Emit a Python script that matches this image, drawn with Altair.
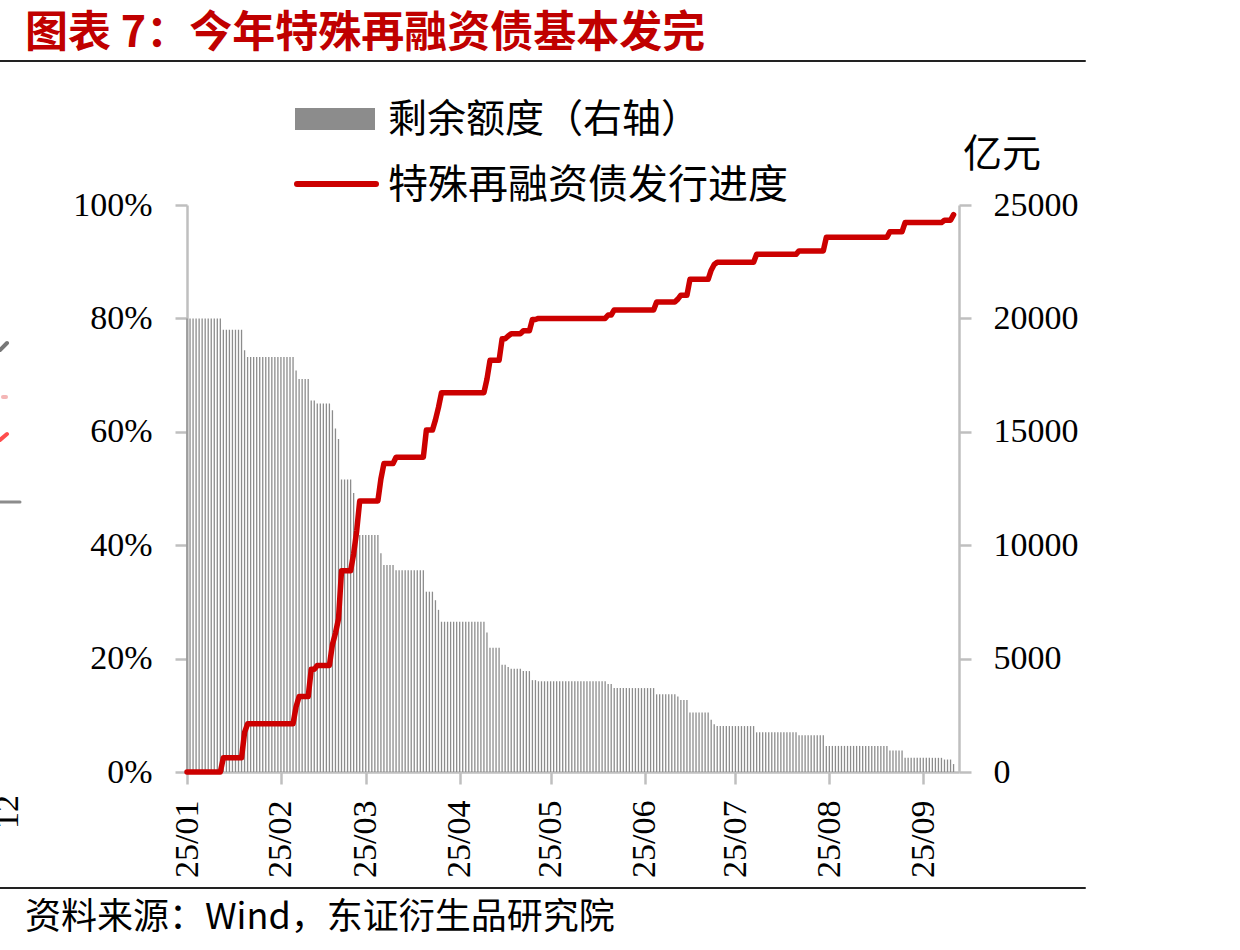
import altair as alt
import pandas as pd
import numpy as np

# ---------------- data ----------------
start_date = "2025-01-01"
# number of consecutive days at each level, starting 2025-01-01
run_days = [12, 7, 1, 16, 1, 4, 2, 5, 1, 1, 1, 4, 1, 1, 7, 1, 4, 10, 3, 1, 1, 15,
            1, 4, 2, 1, 4, 3, 2, 23, 2, 14, 7, 1, 3, 7, 1, 1, 13, 14, 9, 21, 5, 13, 3, 1]
# 剩余额度 (亿元, right axis)
remain_levels = [20000, 19500, 18600, 18300, 17700, 17330, 16375, 16250, 15950, 15150,
                 14680, 12900, 12300, 11500, 10450, 9650, 9125, 8900, 7950, 7575, 7150,
                 6625, 6150, 5475, 4725, 4625, 4550, 4450, 4050, 4000, 3875, 3700, 3425,
                 3325, 3175, 2625, 2300, 2100, 2025, 1750, 1625, 1150, 950, 625, 550, 350]
# 特殊再融资债发行进度 (%, left axis)
progress_levels = [0, 2.5, 7.0, 8.5, 11.5, 13.3, 18.1, 18.8, 22.5, 24.5, 27.0, 35.5,
                   38.5, 42.5, 47.8, 51.7, 54.4, 55.5, 60.3, 62.1, 64.3, 66.9, 69.3,
                   72.6, 76.4, 76.9, 77.3, 77.8, 79.8, 80.0, 80.6, 81.5, 82.9, 83.4,
                   84.1, 86.9, 88.5, 89.5, 89.9, 91.3, 91.9, 94.3, 95.3, 96.9, 97.3, 98.3]

left_ticks = [0, 20, 40, 60, 80, 100]
right_ticks = [0, 5000, 10000, 15000, 20000, 25000]
month_ticks = [1, 2, 3, 4, 5, 6, 7, 8, 9]

title_text = "图表 7：今年特殊再融资债基本发完"
legend_bar_text = "剩余额度（右轴）"
legend_line_text = "特殊再融资债发行进度"
unit_text = "亿元"
source_text = "资料来源：Wind，东证衍生品研究院"

# ---------------- table ----------------
dates = pd.date_range(start_date, periods=sum(run_days), freq="D")
df = pd.DataFrame({
    "date": dates.strftime("%Y-%m-%dT00:00:00"),
    "remain": np.repeat(remain_levels, run_days),
    "progress": np.repeat(progress_levels, run_days),
})

CJK = "Noto Sans CJK SC"
SERIF = "Liberation Serif"
AX = "#bfbfbf"
RED = "#CC0000"
GRAY = "#8c8c8c"

W, H = 772, 567
PL, PT = 187, 205  # view origin in page pixels

xenc = alt.X(
    "date:T",
    title=None,
    scale=alt.Scale(domain=[alt.DateTime(year=2025, month=1, date=1),
                            alt.DateTime(year=2025, month=9, date=12, hours=19)],
                    padding=0),
    axis=alt.Axis(
        values=[alt.DateTime(year=2025, month=m, date=1) for m in month_ticks],
        format="%y/%m", labelAngle=270, labelAlign="right", labelBaseline="middle",
        labelPadding=16, tickSize=12, grid=False,
    ),
)

bars = alt.Chart(df).mark_bar(size=1.3, color=GRAY).encode(
    x=xenc,
    y=alt.Y("remain:Q", title=None,
            scale=alt.Scale(domain=[0, 25000], nice=False),
            axis=alt.Axis(orient="right", values=right_ticks, labelPadding=22,
                          tickSize=12, grid=False, format="d")),
)

line = alt.Chart(df).mark_line(color=RED, strokeWidth=5.5, strokeCap="round",
                               strokeJoin="round").encode(
    x=xenc,
    y=alt.Y("progress:Q", title=None,
            scale=alt.Scale(domain=[0, 100], nice=False),
            axis=alt.Axis(orient="left", values=left_ticks, labelPadding=23,
                          tickSize=12, grid=False, labelExpr="datum.value + '%'")),
)


def txt(s, px, py, size, color="black", font=CJK, weight="normal", align="left", angle=0):
    return alt.Chart(pd.DataFrame({"t": [s]})).mark_text(
        align=align, baseline="middle", fontSize=size, font=font,
        fontWeight=weight, color=color, angle=angle,
    ).encode(x=alt.value(px - PL), y=alt.value(py - PT), text="t:N")


def rule(x1, y1, x2, y2, color, width):
    return alt.Chart(pd.DataFrame({"a": [0]})).mark_rule(
        color=color, strokeWidth=width, strokeCap="round"
    ).encode(x=alt.value(x1 - PL), x2=alt.value(x2 - PL),
             y=alt.value(y1 - PT), y2=alt.value(y2 - PT))


def rect(x1, y1, x2, y2, color):
    return alt.Chart(pd.DataFrame({"a": [0]})).mark_rect(color=color).encode(
        x=alt.value(x1 - PL), x2=alt.value(x2 - PL),
        y=alt.value(y1 - PT), y2=alt.value(y2 - PT))


annotations = [
    txt(title_text, 25, 34, 43, color="#C00000", weight="bold"),
    rule(0, 61, 1085, 61, "#222222", 2),
    rect(295, 108, 375, 130, GRAY),
    txt(legend_bar_text, 388, 120, 39),
    alt.Chart(pd.DataFrame({"a": [0]})).mark_rule(color=RED, strokeWidth=6, strokeCap="round").encode(
        x=alt.value(297 - PL), x2=alt.value(376 - PL), y=alt.value(184 - PT), y2=alt.value(184 - PT)),
    txt(legend_line_text, 388, 186, 40),
    txt(unit_text, 963, 155, 39),
    rule(0, 888, 1085, 888, "#222222", 2),
    txt(source_text, 25, 918, 36),
    # fragments of the neighbouring chart at the left edge
    rule(0, 350, 7, 343, "#777777", 4),
    rule(3, 397, 6, 397, "#f4b6b6", 4),
    rule(0, 440, 7, 434, "#ff4d4d", 4),
    rule(0, 502, 20, 502, GRAY, 3),
    txt("12", 8, 795, 34, font=SERIF, align="right", angle=270),
]

chart = alt.layer(bars, line, *annotations).resolve_scale(y="independent").properties(
    width=W, height=H,
    padding={"left": PL, "top": PT, "right": 1240 - PL - W, "bottom": 950 - PT - H},
    autosize=alt.AutoSizeParams(type="none"),
    background="white",
).configure_view(stroke=None).configure_axis(
    domainColor=AX, domainWidth=2.5, tickColor=AX, tickWidth=2.5,
    labelFont=SERIF, labelFontSize=34, labelColor="black", grid=False,
)

chart.save("out.html", embed_options={"renderer": "svg", "actions": False})
